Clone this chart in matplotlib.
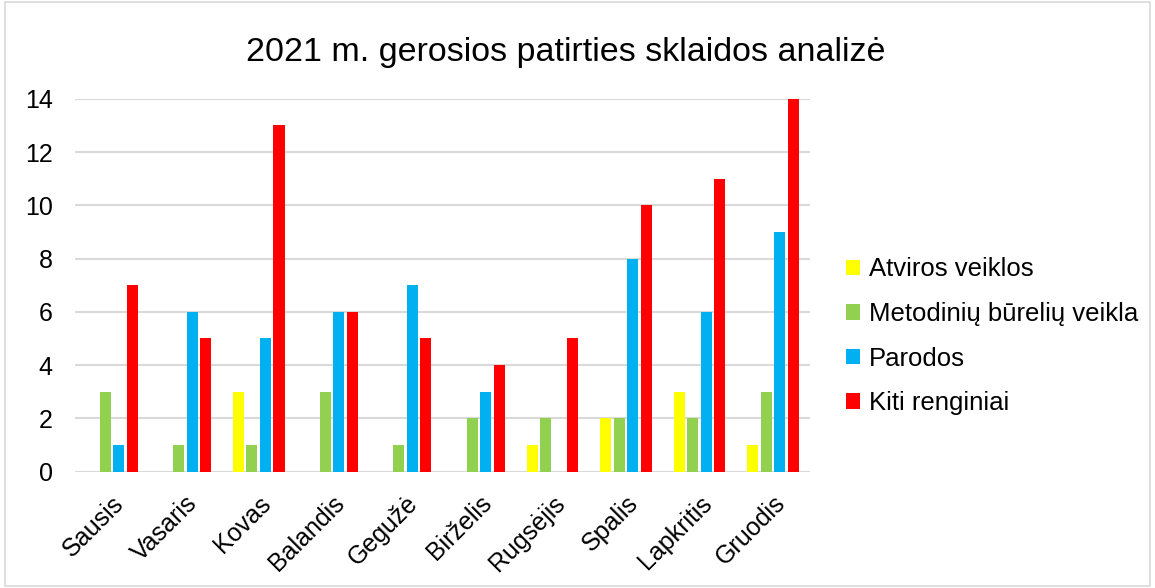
import numpy as np
import matplotlib
matplotlib.use("Agg")
import matplotlib.pyplot as plt
from matplotlib.patches import Rectangle

plt.rcParams['font.family'] = ['Liberation Sans', 'DejaVu Sans']

menesiai = ["Sausis", "Vasaris", "Kovas", "Balandis", "Gegužė",
            "Birželis", "Rugsėjis", "Spalis", "Lapkritis", "Gruodis"]
atviros = [0, 0, 3, 0, 0, 0, 1, 2, 3, 1]
metodiniu = [3, 1, 1, 3, 1, 2, 2, 2, 2, 3]
parodos = [1, 6, 5, 6, 7, 3, 0, 8, 6, 9]
kiti = [7, 5, 13, 6, 5, 4, 5, 10, 11, 14]

serijos = [("Atviros veiklos", atviros, "#FFFF00"),
           ("Metodinių būrelių veikla", metodiniu, "#92D050"),
           ("Parodos", parodos, "#00B0F0"),
           ("Kiti renginiai", kiti, "#FF0000")]

fig = plt.figure(figsize=(11.55, 5.88), dpi=100)
ax = fig.add_axes([0.065, 0.198, 0.636, 0.634])

x = np.arange(len(menesiai))
zingsnis = 0.184
for i, (pav, reiksmes, spalva) in enumerate(serijos):
    ax.bar(x + (i - 1.5) * zingsnis, reiksmes, 0.15, color=spalva,
           linewidth=0, label=pav, zorder=3)

ax.set_xlim(-0.5, len(menesiai) - 0.5)
ax.set_ylim(0, 14)
ax.set_yticks(range(0, 15, 2))
ax.yaxis.grid(True, color="#d9d9d9", linewidth=1.5, zorder=0)
ax.set_axisbelow(True)
for s in ax.spines.values():
    s.set_visible(False)
ax.tick_params(axis="y", length=0, labelsize=18, pad=16)
ax.set_xticks(x)
ax.set_xticklabels(menesiai, rotation=45, ha="right", rotation_mode="anchor")
ax.tick_params(axis="x", length=0, labelsize=18, pad=14)

fig.text(0.49, 0.91, "2021 m. gerosios patirties sklaidos analizė",
         fontsize=24.5, ha="center", va="center")

ax.legend(loc="center left", bbox_to_anchor=(1.035, 0.363), frameon=False,
          fontsize=18.5, handlelength=0.55, handleheight=0.55, labelspacing=0.8,
          handletextpad=0.35, borderaxespad=0)

fig.patches.append(Rectangle((0.004, 0.004), 0.992, 0.992, transform=fig.transFigure,
                             fill=False, edgecolor="#d9d9d9", linewidth=1.2))

fig.savefig("out.png", dpi=100)
